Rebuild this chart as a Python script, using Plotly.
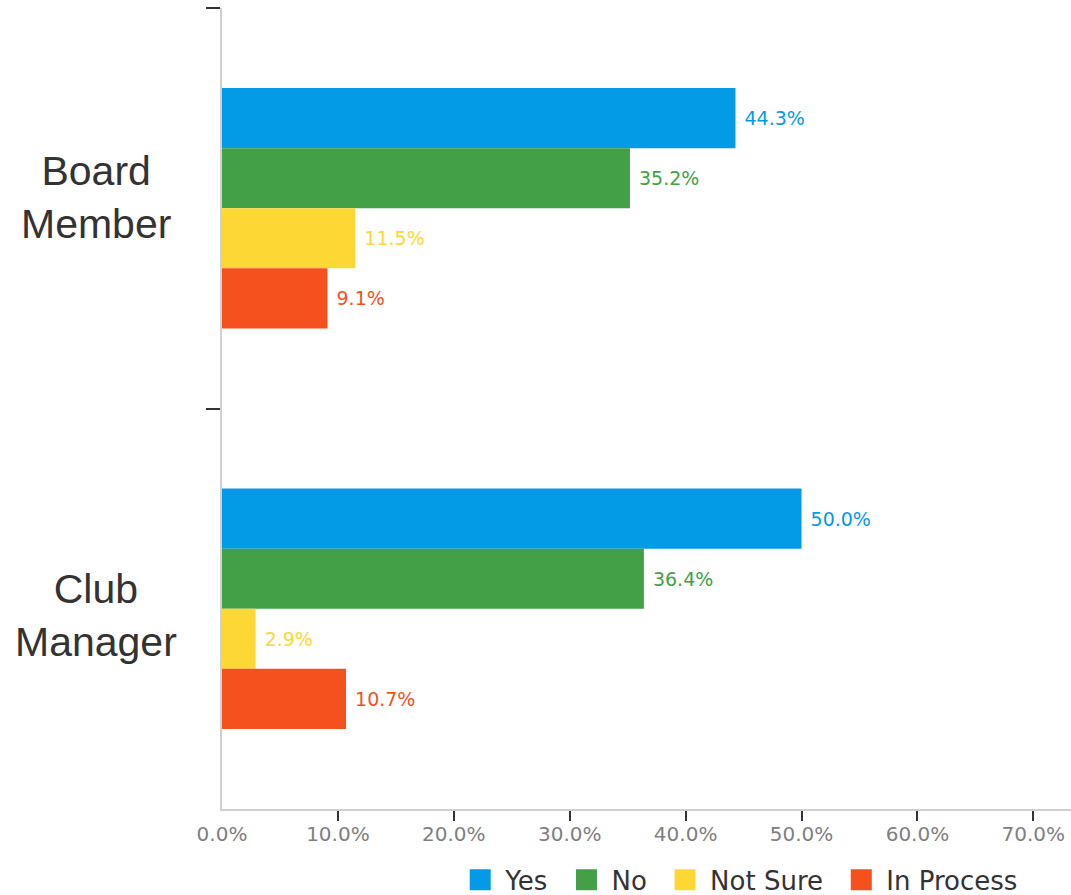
import plotly.graph_objects as go

categories = ["Board Member", "Club Manager"]
category_labels = ["Board<br>Member", "Club<br>Manager"]
series_names = ["Yes", "No", "Not Sure", "In Process"]
yes_vals = [44.3, 50.0]
no_vals = [35.2, 36.4]
not_sure_vals = [11.5, 2.9]
in_process_vals = [9.1, 10.7]
x_tick_vals = [0, 10, 20, 30, 40, 50, 60, 70]
x_tick_text = ["0.0%", "10.0%", "20.0%", "30.0%", "40.0%", "50.0%", "60.0%", "70.0%"]

colors = ["#039BE5", "#43A047", "#FDD835", "#F4511E"]
series_vals = [yes_vals, no_vals, not_sure_vals, in_process_vals]

FONT = "Liberation Sans, Arial, sans-serif"
FONT2 = "DejaVu Sans, sans-serif"

fig = go.Figure()
for name, vals, col in zip(series_names, series_vals, colors):
    fig.add_trace(go.Bar(
        name=name, y=categories, x=vals, orientation="h",
        marker=dict(color=col, line=dict(width=0)),
        text=[f"\u00a0{v:.1f}%" for v in vals],
        textposition="outside", cliponaxis=False,
        textfont=dict(color=col, size=19, family=FONT2),
        showlegend=False, hoverinfo="x+name",
    ))
# legend entries with larger square swatches
for name, col in zip(series_names, colors):
    fig.add_trace(go.Scatter(
        name=name + "\u00a0", x=[None], y=[None], mode="markers",
        marker=dict(symbol="square", size=16, color=col, line=dict(color=col, width=5)),
        showlegend=True, hoverinfo="skip",
    ))

label_shifts = [11, -7]
for i, lab in enumerate(category_labels):
    fig.add_annotation(
        x=-0.148, xref="paper", y=i, yref="y", text=lab, showarrow=False,
        xanchor="center", yanchor="middle", align="center", yshift=label_shifts[i],
        font=dict(size=41, color="#333333", family=FONT),
    )

fig.update_layout(
    width=1071, height=895,
    margin=dict(l=222, r=0, t=8, b=86),
    paper_bgcolor="white", plot_bgcolor="white",
    barmode="group", bargap=0.4, bargroupgap=0,
    font=dict(family=FONT2),
    legend=dict(
        orientation="h", x=0.2747, xanchor="left", y=0.0168, yanchor="middle",
        yref="container",
        font=dict(size=26, color="#333333", family=FONT2),
        bgcolor="rgba(0,0,0,0)", traceorder="normal", itemwidth=40,
    ),
    xaxis=dict(
        range=[0, 73.25], tickmode="array", tickvals=x_tick_vals, ticktext=x_tick_text,
        showgrid=False, zeroline=False, showline=True, linecolor="#d0d0d0", linewidth=2,
        ticks="outside", ticklen=6, tickwidth=2, tickcolor="rgba(0,0,0,0)",
        tickfont=dict(size=20, color="#808080", family=FONT2),
        minor=dict(tickvals=x_tick_vals[1:], ticks="outside", ticklen=10, tickwidth=2,
                   tickcolor="#333333", showgrid=False),
    ),
    yaxis=dict(
        type="category", categoryorder="array", categoryarray=categories,
        range=[1.5, -0.5], tickmode="array", tickvals=[-0.5, 0.5], ticktext=["", ""],
        showgrid=False, zeroline=False, showline=True, linecolor="#d0d0d0", linewidth=2,
        ticks="outside", ticklen=14, tickwidth=2, tickcolor="#333333",
    ),
)

fig.write_html("out.html")
